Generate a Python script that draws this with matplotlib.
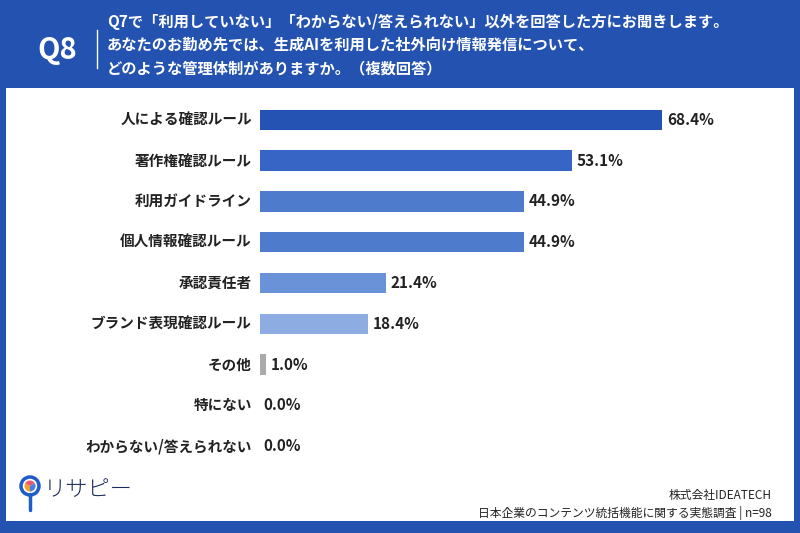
import matplotlib.pyplot as plt
from matplotlib.patches import Rectangle, Circle, Wedge

plt.rcParams['font.family'] = ['Noto Sans CJK JP', 'DejaVu Sans']

# データ
labels = ['人による確認ルール', '著作権確認ルール', '利用ガイドライン', '個人情報確認ルール',
          '承認責任者', 'ブランド表現確認ルール', 'その他', '特にない', 'わからない/答えられない']
values = [68.4, 53.1, 44.9, 44.9, 21.4, 18.4, 1.0, 0.0, 0.0]
colors = ['#2553b3', '#3665c6', '#4f7bcd', '#4f7bcd', '#6a92d8', '#8dade2', '#aaaaaa', '#aaaaaa', '#aaaaaa']

title_lines = ['Q7で「利用していない」「わからない/答えられない」以外を回答した方にお聞きします。',
               'あなたのお勤め先では、生成AIを利用した社外向け情報発信について、',
               'どのような管理体制がありますか。（複数回答）']

blue = '#2352b0'
W, H = 800, 533
fig = plt.figure(figsize=(8, 5.33), dpi=100)
fig.patch.set_facecolor(blue)

# 白いパネル
bg = fig.add_axes([0, 0, 1, 1])
bg.set_xlim(0, W)
bg.set_ylim(H, 0)
bg.axis('off')
bg.add_patch(Rectangle((6, 88), 788, 433, facecolor='white', edgecolor='none'))

# ヘッダー
bg.text(57, 50, 'Q8', color='white', fontsize=21, fontweight='bold', ha='center', va='center')
bg.plot([97, 97], [30, 68], color='white', lw=1)
for i, line in enumerate(title_lines):
    bg.text(107, 22 + i * 23, line, color='white', fontsize=11, fontweight='bold', va='center')

# フッター
bg.text(772, 495, '株式会社IDEATECH', fontsize=8.5, ha='right', va='center', color='#222222')
bg.text(772, 513, '日本企業のコンテンツ統括機能に関する実態調査 | n=98', fontsize=8.5,
        ha='right', va='center', color='#222222')

# ロゴ
bg.plot([30, 30], [494, 510], color='#1e5cc8', lw=2.5, solid_capstyle='round')
bg.add_patch(Circle((30, 486), 9, facecolor='white', edgecolor='#1e5cc8', lw=2.5))
bg.add_patch(Wedge((30, 486), 5.5, 90, 210, facecolor='#f0a030'))
bg.add_patch(Wedge((30, 486), 5.5, 210, 330, facecolor='#e85a70'))
bg.add_patch(Wedge((30, 486), 5.5, 330, 450, facecolor='#4a7ee0'))
bg.text(44, 490, 'リサピー', fontsize=16, color='#1b2b5e', va='center', fontweight='light')

# 棒グラフ
px = 5.88
ax = fig.add_axes([260 / W, 1 - 466.5 / H, 520 / W, (466.5 - 99.5) / H])
ax.set_xlim(0, 520 / px)
ax.set_ylim(len(labels) - 0.5, -0.5)
ax.barh(range(len(labels)), values, height=0.5, color=colors)
for i, (lab, v) in enumerate(zip(labels, values)):
    ax.text(-1.4, i, lab, ha='right', va='center', fontsize=10.5, fontweight='bold', color='#222222')
    ax.text(v + 0.8 if v > 0 else 0.5, i, f'{v:.1f}%', ha='left', va='center',
            fontsize=11, fontweight='bold', color='#222222')
ax.axis('off')

fig.savefig('out.png', dpi=100, facecolor=blue)
